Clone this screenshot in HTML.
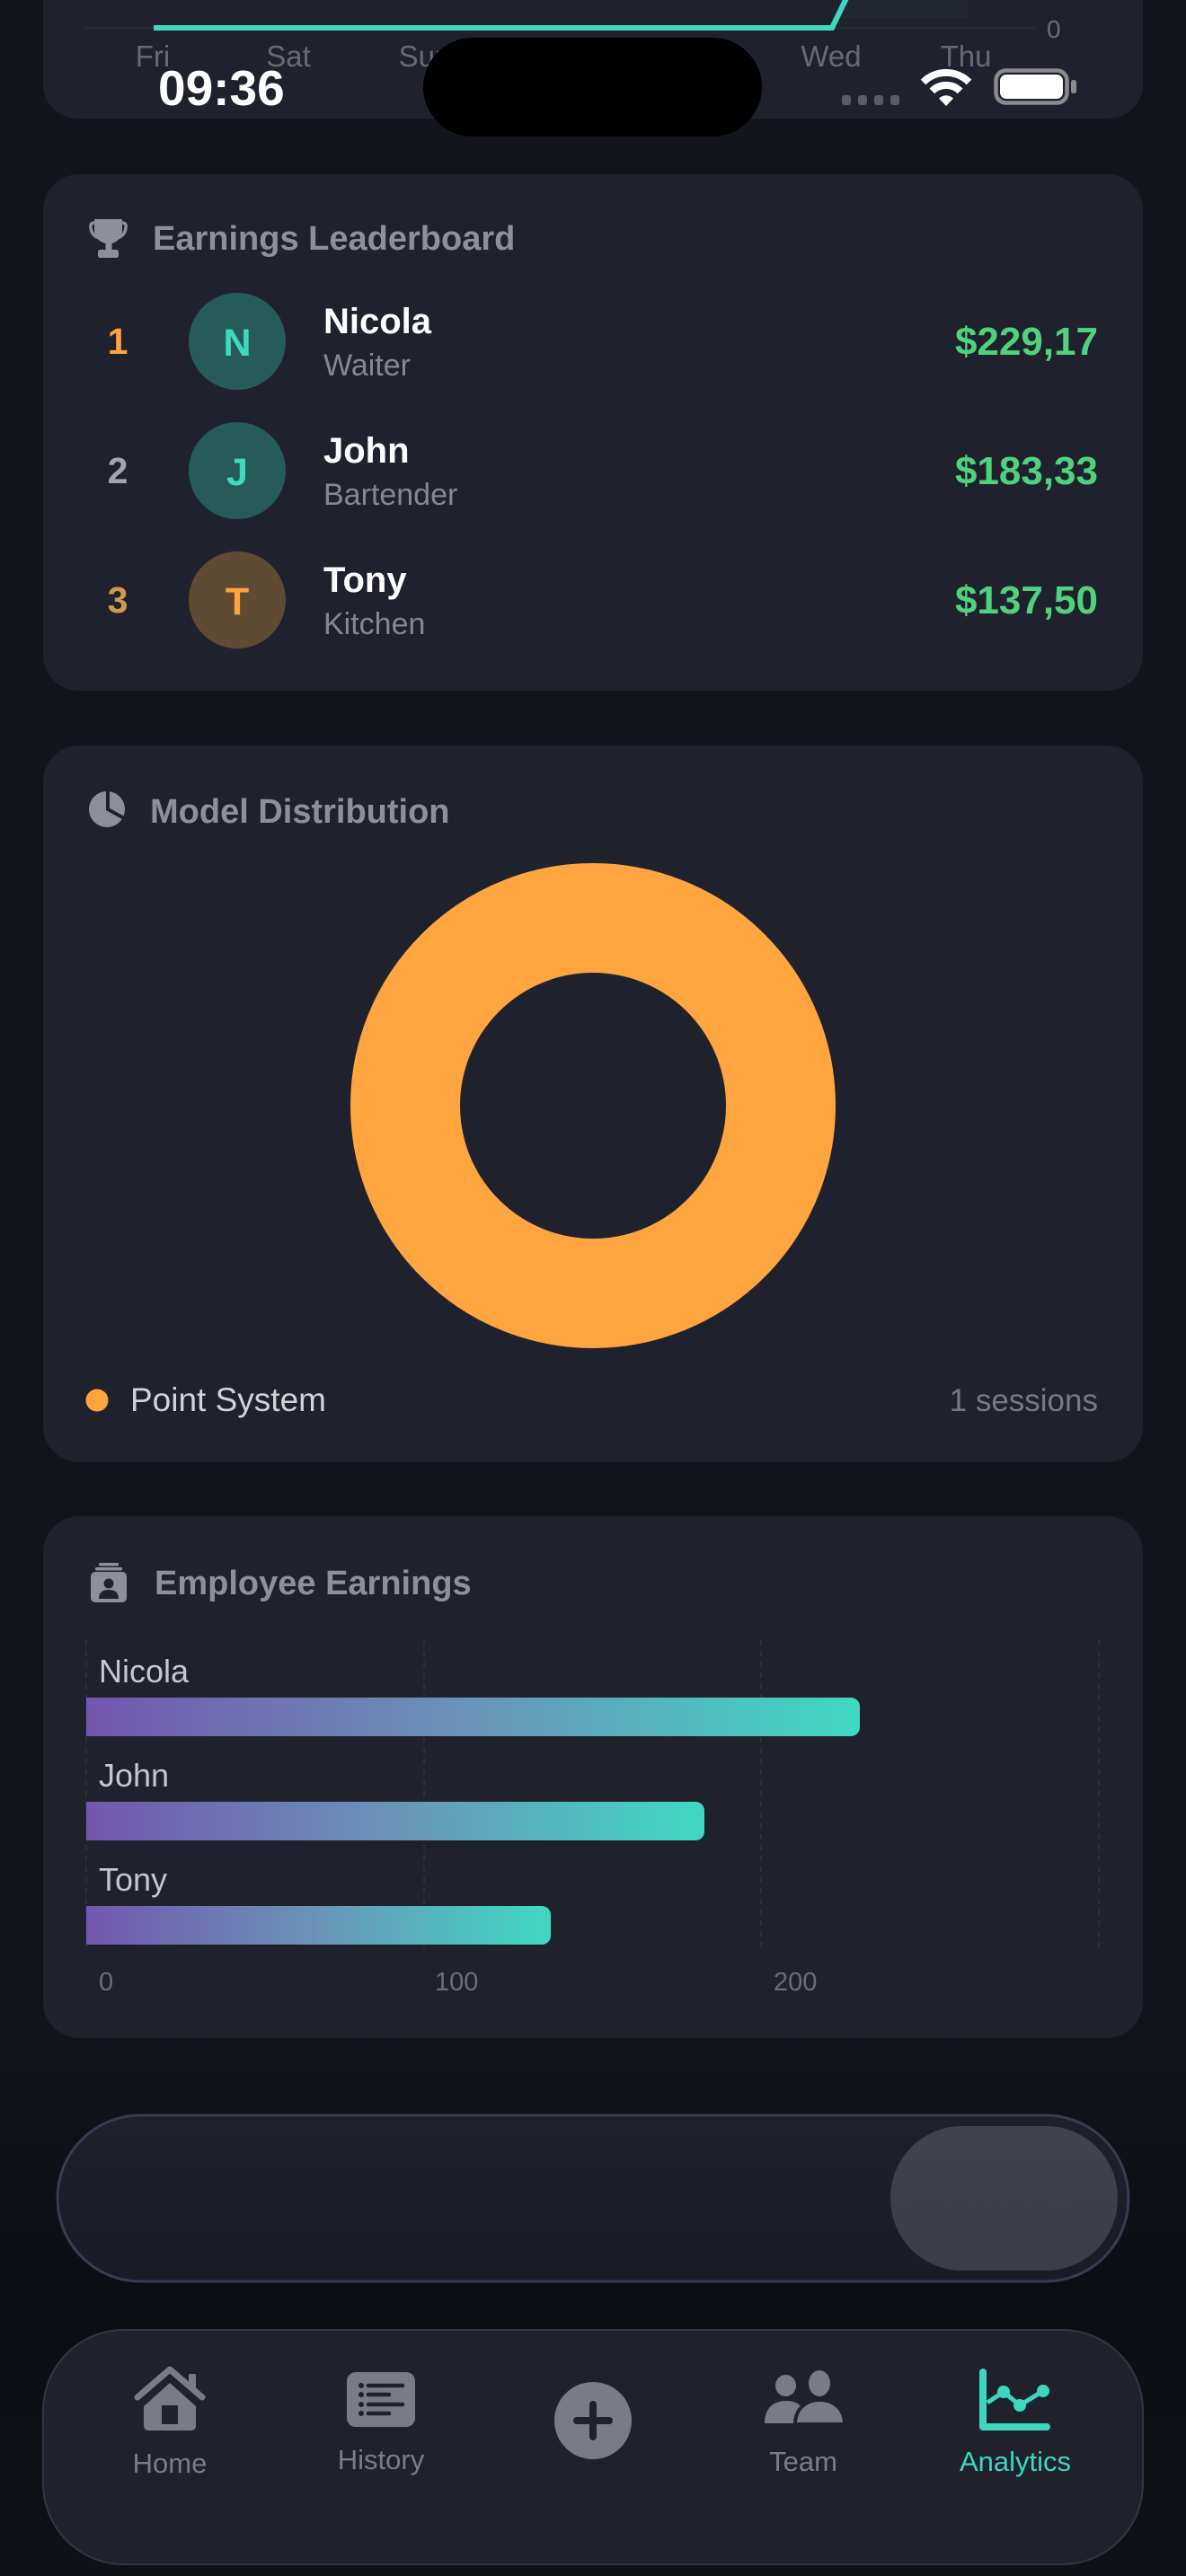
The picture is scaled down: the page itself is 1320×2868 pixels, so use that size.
<!DOCTYPE html>
<html>
<head>
<meta charset="utf-8">
<style>
  html, body { margin:0; padding:0; background:#12141b; }
  body { width:1320px; height:2868px; overflow:hidden; }
  svg { display:block; }
  text { font-family: "Liberation Sans", "DejaVu Sans", sans-serif; }
</style>
</head>
<body>
<svg width="1320" height="2868" viewBox="0 0 1320 2868" xmlns="http://www.w3.org/2000/svg">
  <defs>
    <linearGradient id="bg" x1="0" y1="0" x2="0" y2="1">
      <stop offset="0" stop-color="#13151c"/>
      <stop offset="0.78" stop-color="#12141b"/>
      <stop offset="0.89" stop-color="#0c0e13"/>
      <stop offset="1" stop-color="#0f1117"/>
    </linearGradient>
    <linearGradient id="bar" x1="0" y1="0" x2="1" y2="0">
      <stop offset="0" stop-color="#7357af"/>
      <stop offset="0.5" stop-color="#6a94b9"/>
      <stop offset="1" stop-color="#3fd8c2"/>
    </linearGradient>
    <linearGradient id="pill" x1="0" y1="0" x2="0" y2="1">
      <stop offset="0" stop-color="#1e202a"/>
      <stop offset="1" stop-color="#1a1c25"/>
    </linearGradient>
    <linearGradient id="knob" x1="0" y1="0" x2="0" y2="1">
      <stop offset="0" stop-color="#40424d"/>
      <stop offset="1" stop-color="#3b3d48"/>
    </linearGradient>
  </defs>

  <!-- background -->
  <rect x="0" y="0" width="1320" height="2868" fill="url(#bg)"/>

  <!-- ============ TOP CARD (line chart remnant) ============ -->
  <rect x="48" y="-80" width="1224" height="212" rx="38" fill="#1f222d"/>
  <rect x="934" y="0" width="143" height="20" fill="#232732"/>
  <line x1="95" y1="31" x2="1152" y2="31" stroke="#2a2d37" stroke-width="2"/>
  <polyline points="171,31 926,31 943,-4" fill="none" stroke="#3dd9c1" stroke-width="6" stroke-linejoin="miter"/>
  <text x="1165" y="42" font-size="28" fill="#6b6e78">0</text>
  <g font-size="33" fill="#676a73" text-anchor="middle">
    <text x="170" y="74">Fri</text>
    <text x="321" y="74">Sat</text>
    <text x="473" y="74">Sun</text>
    <text x="624" y="74">Mon</text>
    <text x="775" y="74">Tue</text>
    <text x="925" y="74">Wed</text>
    <text x="1075" y="74">Thu</text>
  </g>

  <!-- status bar -->
  <text x="176" y="117" font-size="55" font-weight="bold" fill="#ffffff">09:36</text>
  <rect x="471" y="42" width="377" height="110" rx="55" fill="#000000"/>
  <g fill="#595c66">
    <rect x="937" y="106" width="10" height="11" rx="3"/>
    <rect x="955" y="106" width="10" height="11" rx="3"/>
    <rect x="973" y="106" width="10" height="11" rx="3"/>
    <rect x="991" y="106" width="10" height="11" rx="3"/>
  </g>
  <g fill="none" stroke="#ffffff" stroke-width="8">
    <path d="M1027.5 91.5 A36 36 0 0 1 1078.5 91.5"/>
    <path d="M1037.4 101.4 A22 22 0 0 1 1068.6 101.4"/>
  </g>
  <path d="M1053 118 L1045 109.5 A11.5 11.5 0 0 1 1061 109.5 Z" fill="#ffffff"/>
  <rect x="1108.5" y="78.5" width="79" height="36" rx="11" fill="none" stroke="#8a8a8f" stroke-width="4.5"/>
  <rect x="1113" y="83" width="70" height="27" rx="7" fill="#ffffff"/>
  <rect x="1192" y="89" width="6" height="15" rx="2.5" fill="#8a8a8f"/>

  <!-- ============ EARNINGS LEADERBOARD ============ -->
  <rect x="48" y="194" width="1224" height="575" rx="40" fill="#1f222d"/>
  <!-- trophy -->
  <g fill="#8e9099">
    <path d="M105 244 H136 V256 Q136 269 121 272 Q105 269 105 256 Z"/>
    <path d="M105 248 Q100 248 101 254 Q102 262 110 265" fill="none" stroke="#8e9099" stroke-width="3.5"/>
    <path d="M136 248 Q141 248 140 254 Q139 262 131 265" fill="none" stroke="#8e9099" stroke-width="3.5"/>
    <rect x="117.5" y="270" width="7" height="10"/>
    <rect x="109" y="278" width="23" height="9" rx="2.5"/>
  </g>
  <text x="170" y="278" font-size="38" font-weight="bold" fill="#8e9099">Earnings Leaderboard</text>

  <!-- row 1 -->
  <text x="131" y="394" font-size="41" font-weight="bold" fill="#ffa23f" text-anchor="middle">1</text>
  <circle cx="264" cy="380" r="54" fill="#275b59"/>
  <text x="264" y="396" font-size="43" font-weight="bold" fill="#3ed9c2" text-anchor="middle">N</text>
  <text x="360" y="371" font-size="40" font-weight="bold" fill="#ffffff">Nicola</text>
  <text x="360" y="418" font-size="34" fill="#868891">Waiter</text>
  <text x="1222" y="395" font-size="44" font-weight="bold" fill="#4fd27d" text-anchor="end">$229,17</text>

  <!-- row 2 -->
  <text x="131" y="538" font-size="41" font-weight="bold" fill="#a3a5ab" text-anchor="middle">2</text>
  <circle cx="264" cy="524" r="54" fill="#275b59"/>
  <text x="264" y="540" font-size="43" font-weight="bold" fill="#3ed9c2" text-anchor="middle">J</text>
  <text x="360" y="515" font-size="40" font-weight="bold" fill="#ffffff">John</text>
  <text x="360" y="562" font-size="34" fill="#868891">Bartender</text>
  <text x="1222" y="539" font-size="44" font-weight="bold" fill="#4fd27d" text-anchor="end">$183,33</text>

  <!-- row 3 -->
  <text x="131" y="682" font-size="41" font-weight="bold" fill="#d09a4c" text-anchor="middle">3</text>
  <circle cx="264" cy="668" r="54" fill="#5f4a33"/>
  <text x="264" y="684" font-size="43" font-weight="bold" fill="#ffa33f" text-anchor="middle">T</text>
  <text x="360" y="659" font-size="40" font-weight="bold" fill="#ffffff">Tony</text>
  <text x="360" y="706" font-size="34" fill="#868891">Kitchen</text>
  <text x="1222" y="683" font-size="44" font-weight="bold" fill="#4fd27d" text-anchor="end">$137,50</text>

  <!-- ============ MODEL DISTRIBUTION ============ -->
  <rect x="48" y="830" width="1224" height="798" rx="40" fill="#1f222d"/>
  <circle cx="119" cy="901" r="20" fill="#8e9099"/>
  <path d="M120 880 V901 L138 911" fill="none" stroke="#1f222d" stroke-width="4"/>
  <text x="167" y="916" font-size="38" font-weight="bold" fill="#8e9099">Model Distribution</text>
  <circle cx="660" cy="1231" r="209" fill="none" stroke="#ffa53f" stroke-width="122"/>
  <circle cx="108" cy="1559" r="12.5" fill="#ffa53f"/>
  <text x="145" y="1571" font-size="37" fill="#d2d3d8">Point System</text>
  <text x="1222" y="1571" font-size="35" fill="#777a83" text-anchor="end">1 sessions</text>

  <!-- ============ EMPLOYEE EARNINGS ============ -->
  <rect x="48" y="1688" width="1224" height="581" rx="40" fill="#1f222d"/>
  <g fill="#8e9099">
    <rect x="110" y="1740" width="22" height="3.5" rx="1.5"/>
    <rect x="106" y="1745" width="30" height="3.5" rx="1.5"/>
    <rect x="101" y="1750" width="40" height="34" rx="5"/>
  </g>
  <circle cx="121" cy="1763" r="5.5" fill="#1f222d"/>
  <path d="M110 1780 Q110 1770 121 1770 Q132 1770 132 1780 Z" fill="#1f222d"/>
  <text x="172" y="1775" font-size="38" font-weight="bold" fill="#8e9099">Employee Earnings</text>

  <g stroke="#2c2f39" stroke-width="2" stroke-dasharray="6 6">
    <line x1="96" y1="1826" x2="96" y2="2168"/>
    <line x1="472" y1="1826" x2="472" y2="2168"/>
    <line x1="847" y1="1826" x2="847" y2="2168"/>
    <line x1="1223" y1="1826" x2="1223" y2="2168"/>
  </g>

  <g font-size="36" fill="#c5c7cc">
    <text x="110" y="1873">Nicola</text>
    <text x="110" y="1989">John</text>
    <text x="110" y="2105">Tony</text>
  </g>
  <path d="M96 1890 H947 A10 10 0 0 1 957 1900 V1923 A10 10 0 0 1 947 1933 H96 Z" fill="url(#bar)"/>
  <path d="M96 2006 H774 A10 10 0 0 1 784 2016 V2039 A10 10 0 0 1 774 2049 H96 Z" fill="url(#bar)"/>
  <path d="M96 2122 H603 A10 10 0 0 1 613 2132 V2155 A10 10 0 0 1 603 2165 H96 Z" fill="url(#bar)"/>

  <g font-size="29" fill="#6b6e78">
    <text x="110" y="2216">0</text>
    <text x="484" y="2216">100</text>
    <text x="861" y="2216">200</text>
  </g>

  <!-- ============ SLIDER PILL ============ -->
  <rect x="64" y="2355" width="1192" height="185" rx="92.5" fill="url(#pill)" stroke="#373d51" stroke-width="3"/>
  <rect x="991" y="2367" width="253" height="161" rx="80" fill="url(#knob)"/>

  <!-- ============ BOTTOM NAV ============ -->
  <rect x="48" y="2594" width="1224" height="261" rx="90" fill="#1f222d" stroke="#33363f" stroke-width="2"/>

  <!-- Home -->
  <g fill="#7a7c85">
    <path d="M160 2679 L189 2653 L218 2679 V2700 Q218 2706 212 2706 H166 Q160 2706 160 2700 Z"/>
    <rect x="210" y="2643" width="8" height="17" rx="1.5"/>
  </g>
  <polyline points="153,2669 189,2638 225,2669" fill="none" stroke="#7a7c85" stroke-width="7" stroke-linecap="round" stroke-linejoin="round"/>
  <rect x="180" y="2678" width="18" height="21" fill="#1f222d"/>
  <text x="189" y="2753" font-size="31" fill="#7b7d86" text-anchor="middle">Home</text>

  <!-- History -->
  <rect x="386" y="2641" width="76" height="61" rx="10" fill="#7a7c85"/>
  <g fill="#1f222d">
    <circle cx="402" cy="2656" r="3"/>
    <circle cx="402" cy="2666" r="3"/>
    <circle cx="402" cy="2677" r="3"/>
    <circle cx="402" cy="2687" r="3"/>
  </g>
  <g stroke="#1f222d" stroke-width="4.5" stroke-linecap="round">
    <line x1="410" y1="2656" x2="448" y2="2656"/>
    <line x1="410" y1="2666" x2="433" y2="2666"/>
    <line x1="410" y1="2677" x2="448" y2="2677"/>
    <line x1="410" y1="2687" x2="433" y2="2687"/>
  </g>
  <text x="424" y="2749" font-size="31" fill="#7b7d86" text-anchor="middle">History</text>

  <!-- Plus -->
  <circle cx="660" cy="2695" r="43" fill="#7a7c85"/>
  <g stroke="#1f222d" stroke-width="8" stroke-linecap="round">
    <line x1="642" y1="2695" x2="678" y2="2695"/>
    <line x1="660" y1="2677" x2="660" y2="2713"/>
  </g>

  <!-- Team -->
  <g fill="#7a7c85">
    <ellipse cx="874.5" cy="2656" rx="11.5" ry="12"/>
    <ellipse cx="912" cy="2653.5" rx="12" ry="14.5"/>
    <path d="M851 2698 C851 2681 861 2673 875 2673 C886 2673 893 2678 896 2686 L890 2698 Z"/>
  </g>
  <path d="M885 2699 C885 2682 897 2672 912 2672 C928 2672 940 2682 940 2699 Z" fill="#7a7c85" stroke="#1f222d" stroke-width="4"/>
  <text x="894" y="2751" font-size="31" fill="#7b7d86" text-anchor="middle">Team</text>

  <!-- Analytics -->
  <path d="M1094 2641 V2702 H1165" fill="none" stroke="#3dd6bf" stroke-width="8" stroke-linecap="round" stroke-linejoin="round"/>
  <polyline points="1099,2675 1117,2663 1135,2678 1161,2662" fill="none" stroke="#3dd6bf" stroke-width="5" stroke-linejoin="round"/>
  <g fill="#3dd6bf">
    <circle cx="1117" cy="2663" r="7"/>
    <circle cx="1135" cy="2678" r="7"/>
    <circle cx="1161" cy="2662" r="7"/>
  </g>
  <text x="1130" y="2751" font-size="31" fill="#3dd6bf" text-anchor="middle">Analytics</text>
</svg>
</body>
</html>
